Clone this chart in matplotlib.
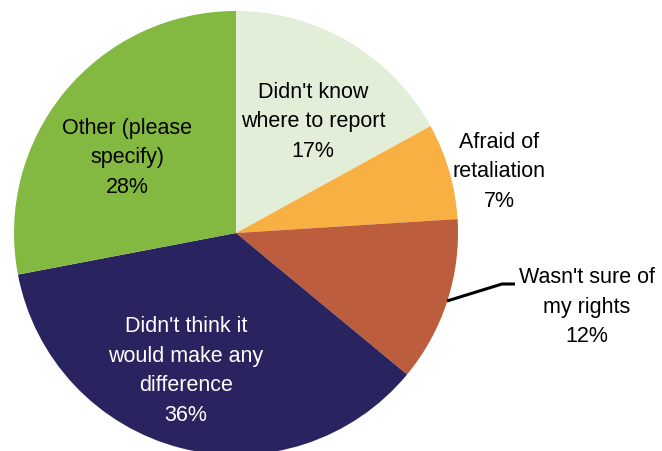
import matplotlib.pyplot as plt

# slices, clockwise from 12 o'clock
labels = ["Didn't know\nwhere to report\n17%",
          "Afraid of\nretaliation\n7%",
          "Wasn't sure of\nmy rights\n12%",
          "Didn't think it\nwould make any\ndifference\n36%",
          "Other (please\nspecify)\n28%"]
shares = [17, 7, 12, 36, 28]
colors = ["#E3EED8", "#F9B042", "#BC5E3E", "#29235F", "#84B941"]
text_colors = ["black", "black", "black", "white", "black"]

W, H = 662, 451
fig = plt.figure(figsize=(W / 100, H / 100), dpi=100)
cx, cy, r = 236, 451 - 233, 222  # pie centre / radius in pixels
ax = fig.add_axes([(cx - r) / W, (cy - r) / H, 2 * r / W, 2 * r / H])

wedges, _ = ax.pie(shares, colors=colors, startangle=90, counterclock=False,
                   radius=1, center=(0, 0), wedgeprops={"linewidth": 0})
# pie() sets its own limits, so put them back afterwards
ax.set_xlim(-1, 1)
ax.set_ylim(-1, 1)
ax.set_aspect("equal")
ax.axis("off")

def px(x, y):
    # picture pixel -> data coords of the pie axes
    return (x - cx) / r, ((H - y) - cy) / r

# label positions (pixels)
label_pos = [(313, 122), (499, 172), (587, 307), (186, 371), (127, 158)]
for lab, (x, y), tc in zip(labels, label_pos, text_colors):
    ax.text(*px(x, y), lab, ha="center", va="center", color=tc,
            fontsize=15.5, family="Liberation Sans", linespacing=1.55,
            clip_on=False)

# leader line for the small brown slice
pts = [px(447, 301), px(502, 284), px(515, 284)]
ax.plot([p[0] for p in pts], [p[1] for p in pts], color="black", lw=2.2,
        clip_on=False, solid_capstyle="butt")

fig.savefig("out.png", dpi=100)
